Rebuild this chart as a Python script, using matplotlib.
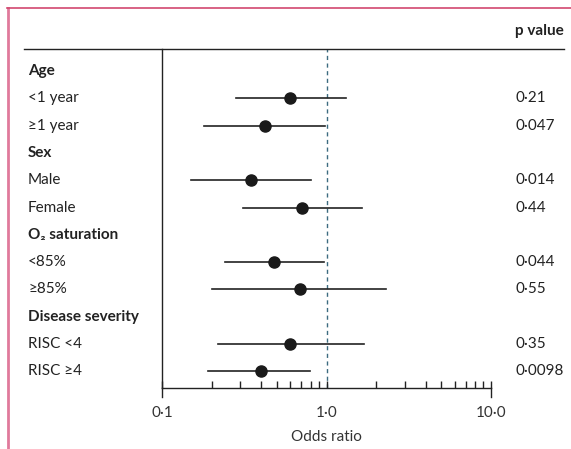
import numpy as np
import matplotlib
matplotlib.use('Agg')
import matplotlib.pyplot as plt
from matplotlib.lines import Line2D
from matplotlib.transforms import blended_transform_factory

plt.rcParams['font.family'] = ['Lato', 'DejaVu Sans']

# rows of the forest plot (None = group heading)
labels = ['Age', '<1 year', '\u22651 year', 'Sex', 'Male', 'Female',
          'O\u2082 saturation', '<85%', '\u226585%', 'Disease severity',
          'RISC <4', 'RISC \u22654']
is_header = [True, False, False, True, False, False,
             True, False, False, True, False, False]
odds = [None, 0.60, 0.42, None, 0.35, 0.71, None, 0.48, 0.69, None, 0.60, 0.40]
ci_low = [None, 0.28, 0.18, None, 0.15, 0.31, None, 0.24, 0.20, None, 0.22, 0.19]
ci_high = [None, 1.32, 0.98, None, 0.81, 1.65, None, 0.96, 2.31, None, 1.70, 0.79]
pvals = [None, '0\u00b721', '0\u00b7047', None, '0\u00b7014', '0\u00b744', None,
         '0\u00b7044', '0\u00b755', None, '0\u00b735', '0\u00b70098']

W, H = 571, 449
fig = plt.figure(figsize=(W / 100, H / 100), dpi=100)

def fx(px):
    return px / W

def fy(py):
    return 1 - py / H

# axes box: x 162..491 px, y 49..388 px
ax = fig.add_axes([fx(162), fy(388), fx(491 - 162), (388 - 49) / H])
ax.set_xscale('log')
ax.set_xlim(0.1, 10)
ax.set_ylim(11.61, -0.806)

for i in range(len(labels)):
    if odds[i] is None:
        continue
    ax.plot([ci_low[i], ci_high[i]], [i, i], color='#222222', lw=1.2, zorder=2)
    ax.plot(odds[i], i, 'o', color='#1a1a1a', ms=8, zorder=3)

ax.axvline(1.0, color='#3d6b80', lw=1, ls=(0, (3, 2.5)), zorder=1)

for s in ['top', 'right']:
    ax.spines[s].set_visible(False)
ax.spines['left'].set_color('#222222')
ax.spines['bottom'].set_color('#222222')
ax.spines['left'].set_linewidth(1)
ax.spines['bottom'].set_linewidth(1)

ax.set_yticks([])
ax.set_xticks([0.1, 1, 10])
ax.set_xticklabels(['0\u00b71', '1\u00b70', '10\u00b70'])
minor = [k * 0.1 for k in range(2, 10)] + [float(k) for k in range(2, 10)]
ax.set_xticks(minor, minor=True)
ax.xaxis.set_minor_formatter(plt.NullFormatter())
ax.tick_params(axis='x', which='both', direction='in', length=5, width=1,
               color='#222222', labelsize=11, labelcolor='#333333', pad=13)
ax.set_xlabel('Odds ratio', fontsize=11, color='#333333', labelpad=7)

# downward ends at 0.1 and 10
tr = blended_transform_factory(ax.transData, ax.transAxes)
for xv in [0.1, 10]:
    ax.plot([xv, xv], [0, -0.027], transform=tr, color='#222222', lw=1,
            clip_on=False)

# row labels and p values
ty = blended_transform_factory(fig.transFigure, ax.transData)
for i, lab in enumerate(labels):
    ax.text(fx(28), i, lab, transform=ty, va='center', ha='left', fontsize=11,
            fontweight='bold' if is_header[i] else 'normal', color='#222222')
    if pvals[i] is not None:
        ax.text(fx(515), i, pvals[i], transform=ty, va='center', ha='left',
                fontsize=11, color='#222222')

fig.text(fx(564), fy(31), 'p value', ha='right', va='center', fontsize=11,
         fontweight='bold', color='#222222')

# header rule and pink frame
fig.add_artist(Line2D([fx(24), fx(564)], [fy(49), fy(49)], color='#222222', lw=1))
fig.add_artist(Line2D([fx(7.5), fx(7.5)], [fy(8), 0], color='#e07a9c', lw=2))
fig.add_artist(Line2D([fx(7), 1], [fy(8), fy(8)], color='#d2486f', lw=1.2))

fig.savefig('out.png', dpi=100)
